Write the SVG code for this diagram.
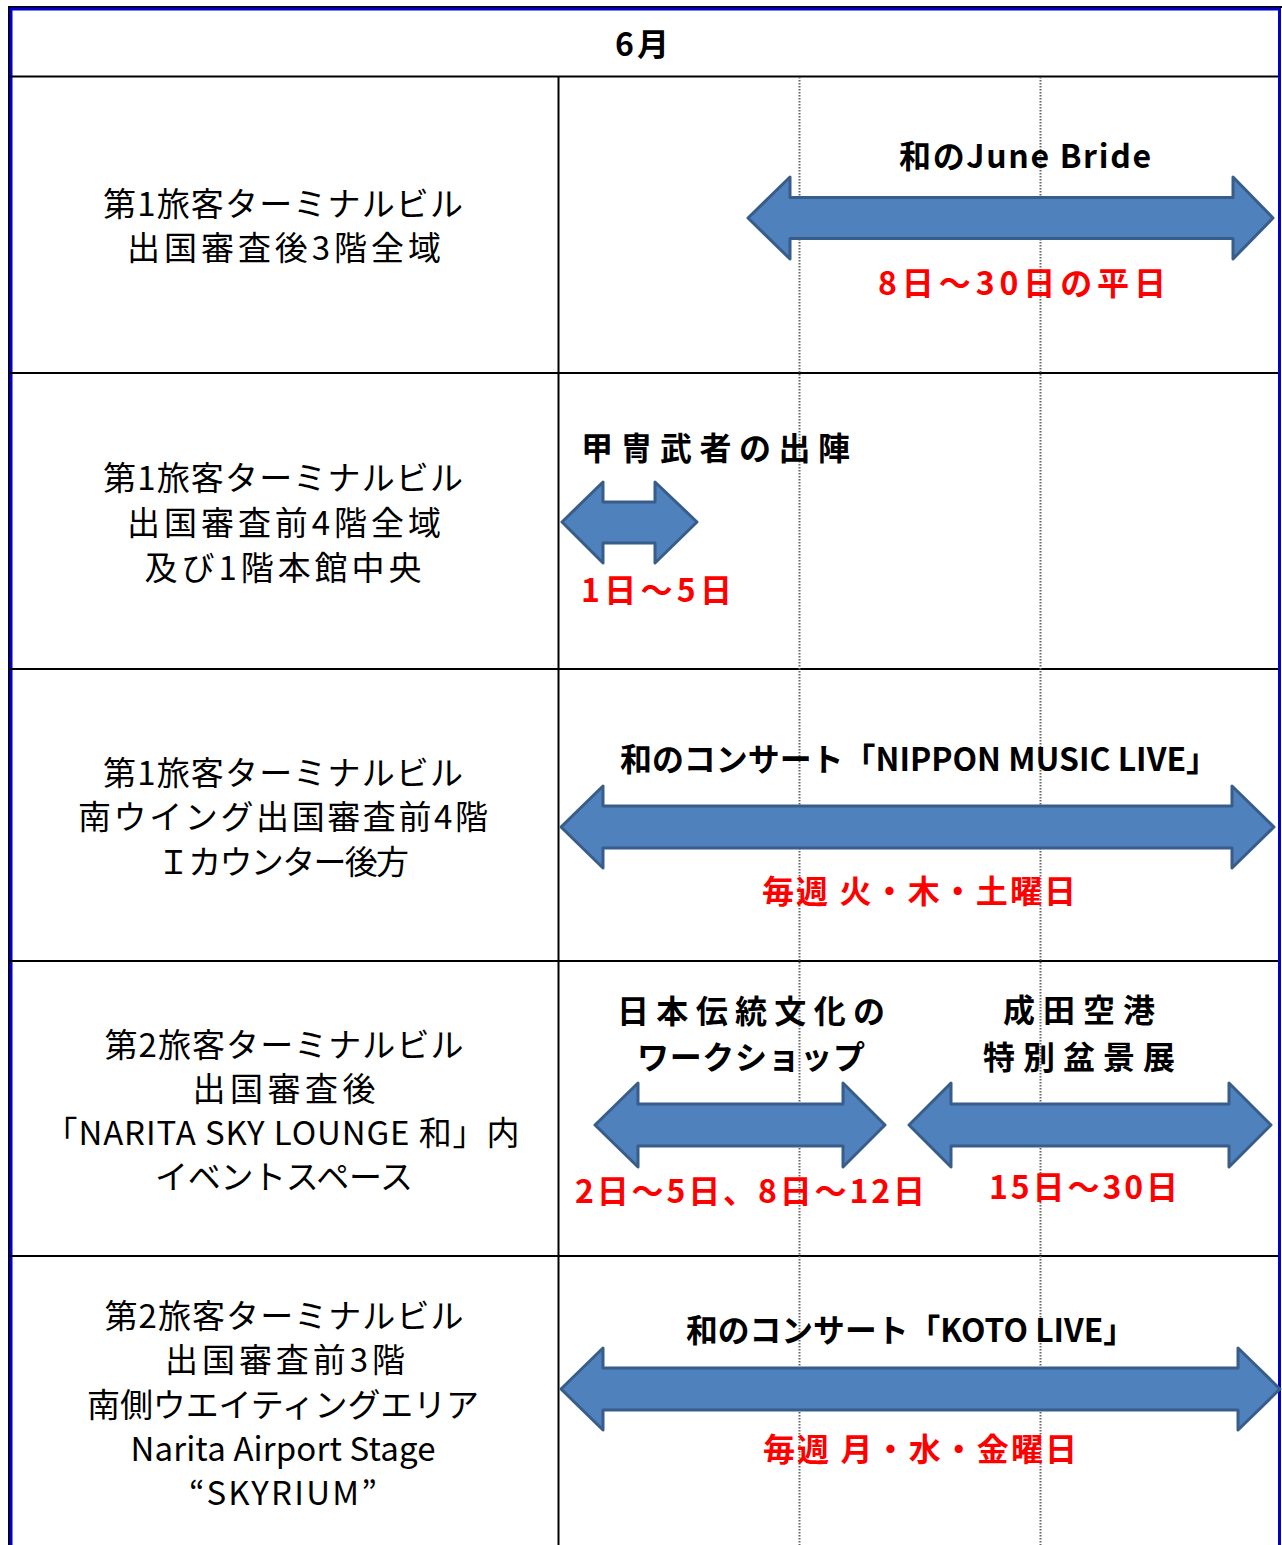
<svg xmlns="http://www.w3.org/2000/svg" width="1282" height="1545" viewBox="0 0 1282 1545">
<style>
.grid{stroke:#000;stroke-width:2;fill:none}
.dot{stroke:#666;stroke-width:2;stroke-dasharray:1.5 1.5;fill:none}
.arr{fill:#4F81BD;stroke:#385D8A;stroke-width:3;stroke-linejoin:round}
.loc{font-family:"Noto Sans CJK JP","Noto Sans",sans-serif;font-size:33px;fill:#000;text-anchor:middle}
.ttl{font-family:"Noto Sans CJK JP","Noto Sans",sans-serif;font-size:32px;font-weight:bold;fill:#000}
.dt{font-family:"Noto Sans CJK JP","Noto Sans",sans-serif;font-size:32px;font-weight:bold;fill:#FF0000}
.hdr{font-family:"Noto Sans CJK JP","Noto Sans",sans-serif;font-size:32px;font-weight:bold;fill:#000;text-anchor:middle}
</style>
<rect width="1282" height="1545" fill="#fff"/>
<g id="frame">
<line x1="8" y1="7" x2="1282" y2="7" stroke="#000" stroke-width="2"/>
<line x1="9" y1="6" x2="9" y2="1545" stroke="#000" stroke-width="2"/>
<path d="M11,1545 L11,9 L1279.5,9 L1279.5,1545" fill="none" stroke="#0000CC" stroke-width="3"/>
<line class="grid" x1="10" y1="76.5" x2="1278" y2="76.5"/>
<line class="grid" x1="558.5" y1="77" x2="558.5" y2="1545"/>
<line class="grid" x1="10" y1="373" x2="1278" y2="373"/>
<line class="grid" x1="10" y1="669" x2="1278" y2="669"/>
<line class="grid" x1="10" y1="961" x2="1278" y2="961"/>
<line class="grid" x1="10" y1="1256" x2="1278" y2="1256"/>
</g>
<g id="guides">
<line class="dot" x1="799.5" y1="77" x2="799.5" y2="1545"/>
<line class="dot" x1="1040.5" y1="77" x2="1040.5" y2="1545"/>
</g>
<g id="header"><text class="hdr" x="642" y="56" textLength="54" lengthAdjust="spacing">6月</text></g>
<g id="locations">
<g id="loc1"><text class="loc" x="283" y="216" textLength="360" lengthAdjust="spacing">第1旅客ターミナルビル</text><text class="loc" x="284" y="260" textLength="314" lengthAdjust="spacing">出国審査後3階全域</text></g>
<g id="loc2"><text class="loc" x="283" y="490" textLength="360" lengthAdjust="spacing">第1旅客ターミナルビル</text><text class="loc" x="284" y="535" textLength="314" lengthAdjust="spacing">出国審査前4階全域</text><text class="loc" x="283" y="580" textLength="277" lengthAdjust="spacing">及び1階本館中央</text></g>
<g id="loc3"><text class="loc" x="283" y="785" textLength="360" lengthAdjust="spacing">第1旅客ターミナルビル</text><text class="loc" x="283" y="829" textLength="410" lengthAdjust="spacing">南ウイング出国審査前4階</text><text class="loc" x="283" y="874" textLength="252" lengthAdjust="spacing">Ｉカウンター後方</text></g>
<g id="loc4"><text class="loc" x="284" y="1057" textLength="359" lengthAdjust="spacing">第2旅客ターミナルビル</text><text class="loc" x="284" y="1101" textLength="183" lengthAdjust="spacing">出国審査後</text><text class="loc" x="282" y="1145" textLength="475" lengthAdjust="spacing">「NARITA SKY LOUNGE 和」内</text><text class="loc" x="284" y="1189" textLength="258" lengthAdjust="spacing">イベントスペース</text></g>
<g id="loc5"><text class="loc" x="284" y="1328" textLength="359" lengthAdjust="spacing">第2旅客ターミナルビル</text><text class="loc" x="285" y="1372" textLength="240" lengthAdjust="spacing">出国審査前3階</text><text class="loc" x="283" y="1417" textLength="392" lengthAdjust="spacing">南側ウエイティングエリア</text><text class="loc" x="283" y="1461" textLength="305" lengthAdjust="spacing">Narita Airport Stage</text><text class="loc" x="283" y="1505" textLength="188" lengthAdjust="spacing">“SKYRIUM”</text></g>
</g>
<g id="connectors">
<path class="arr" d="M748,218 L790,177 L790,197.5 L1233,197.5 L1233,177 L1273,218 L1233,259 L1233,238.5 L790,238.5 L790,259 Z"/>
<path class="arr" d="M562,522 L603,482 L603,502 L655,502 L655,482 L697,522 L655,563 L655,543 L603,543 L603,563 Z"/>
<path class="arr" d="M561,827 L603,786 L603,806 L1232,806 L1232,786 L1274,827 L1232,868 L1232,848 L603,848 L603,868 Z"/>
<path class="arr" d="M595,1125 L638,1083 L638,1104 L843,1104 L843,1083 L885,1125 L843,1167 L843,1146 L638,1146 L638,1167 Z"/>
<path class="arr" d="M909,1125 L951,1083 L951,1104 L1229,1104 L1229,1083 L1271,1125 L1229,1167 L1229,1146 L951,1146 L951,1167 Z"/>
<path class="arr" d="M561,1389 L603,1348 L603,1368 L1238,1368 L1238,1348 L1280,1389 L1238,1430 L1238,1410 L603,1410 L603,1430 Z"/>
</g>
<g id="events">
<g id="ev1"><text class="ttl" x="899" y="168" textLength="252" lengthAdjust="spacing">和のJune Bride</text><text class="dt" x="878" y="295" textLength="288" lengthAdjust="spacing">8日～30日の平日</text></g>
<g id="ev2"><text class="ttl" x="581" y="460" textLength="269" lengthAdjust="spacing">甲冑武者の出陣</text><text class="dt" x="581" y="602" textLength="151" lengthAdjust="spacing">1日～5日</text></g>
<g id="ev3"><text class="ttl" x="620" y="771" textLength="598" lengthAdjust="spacingAndGlyphs">和のコンサート「NIPPON MUSIC LIVE」</text><text class="dt" x="762" y="903" textLength="314" lengthAdjust="spacing">毎週 火・木・土曜日</text></g>
<g id="ev4"><text class="ttl" x="617" y="1023" textLength="268" lengthAdjust="spacing">日本伝統文化の</text><text class="ttl" x="637" y="1069" textLength="228" lengthAdjust="spacing">ワークショップ</text><text class="dt" x="575" y="1203" textLength="350" lengthAdjust="spacing">2日～5日、8日～12日</text></g>
<g id="ev5"><text class="ttl" x="1003" y="1022" textLength="152" lengthAdjust="spacing">成田空港</text><text class="ttl" x="983" y="1069" textLength="192" lengthAdjust="spacing">特別盆景展</text><text class="dt" x="989" y="1199" textLength="189" lengthAdjust="spacing">15日～30日</text></g>
<g id="ev6"><text class="ttl" x="686" y="1342" textLength="449" lengthAdjust="spacingAndGlyphs">和のコンサート「KOTO LIVE」</text><text class="dt" x="763" y="1461" textLength="314" lengthAdjust="spacing">毎週 月・水・金曜日</text></g>
</g>
</svg>
